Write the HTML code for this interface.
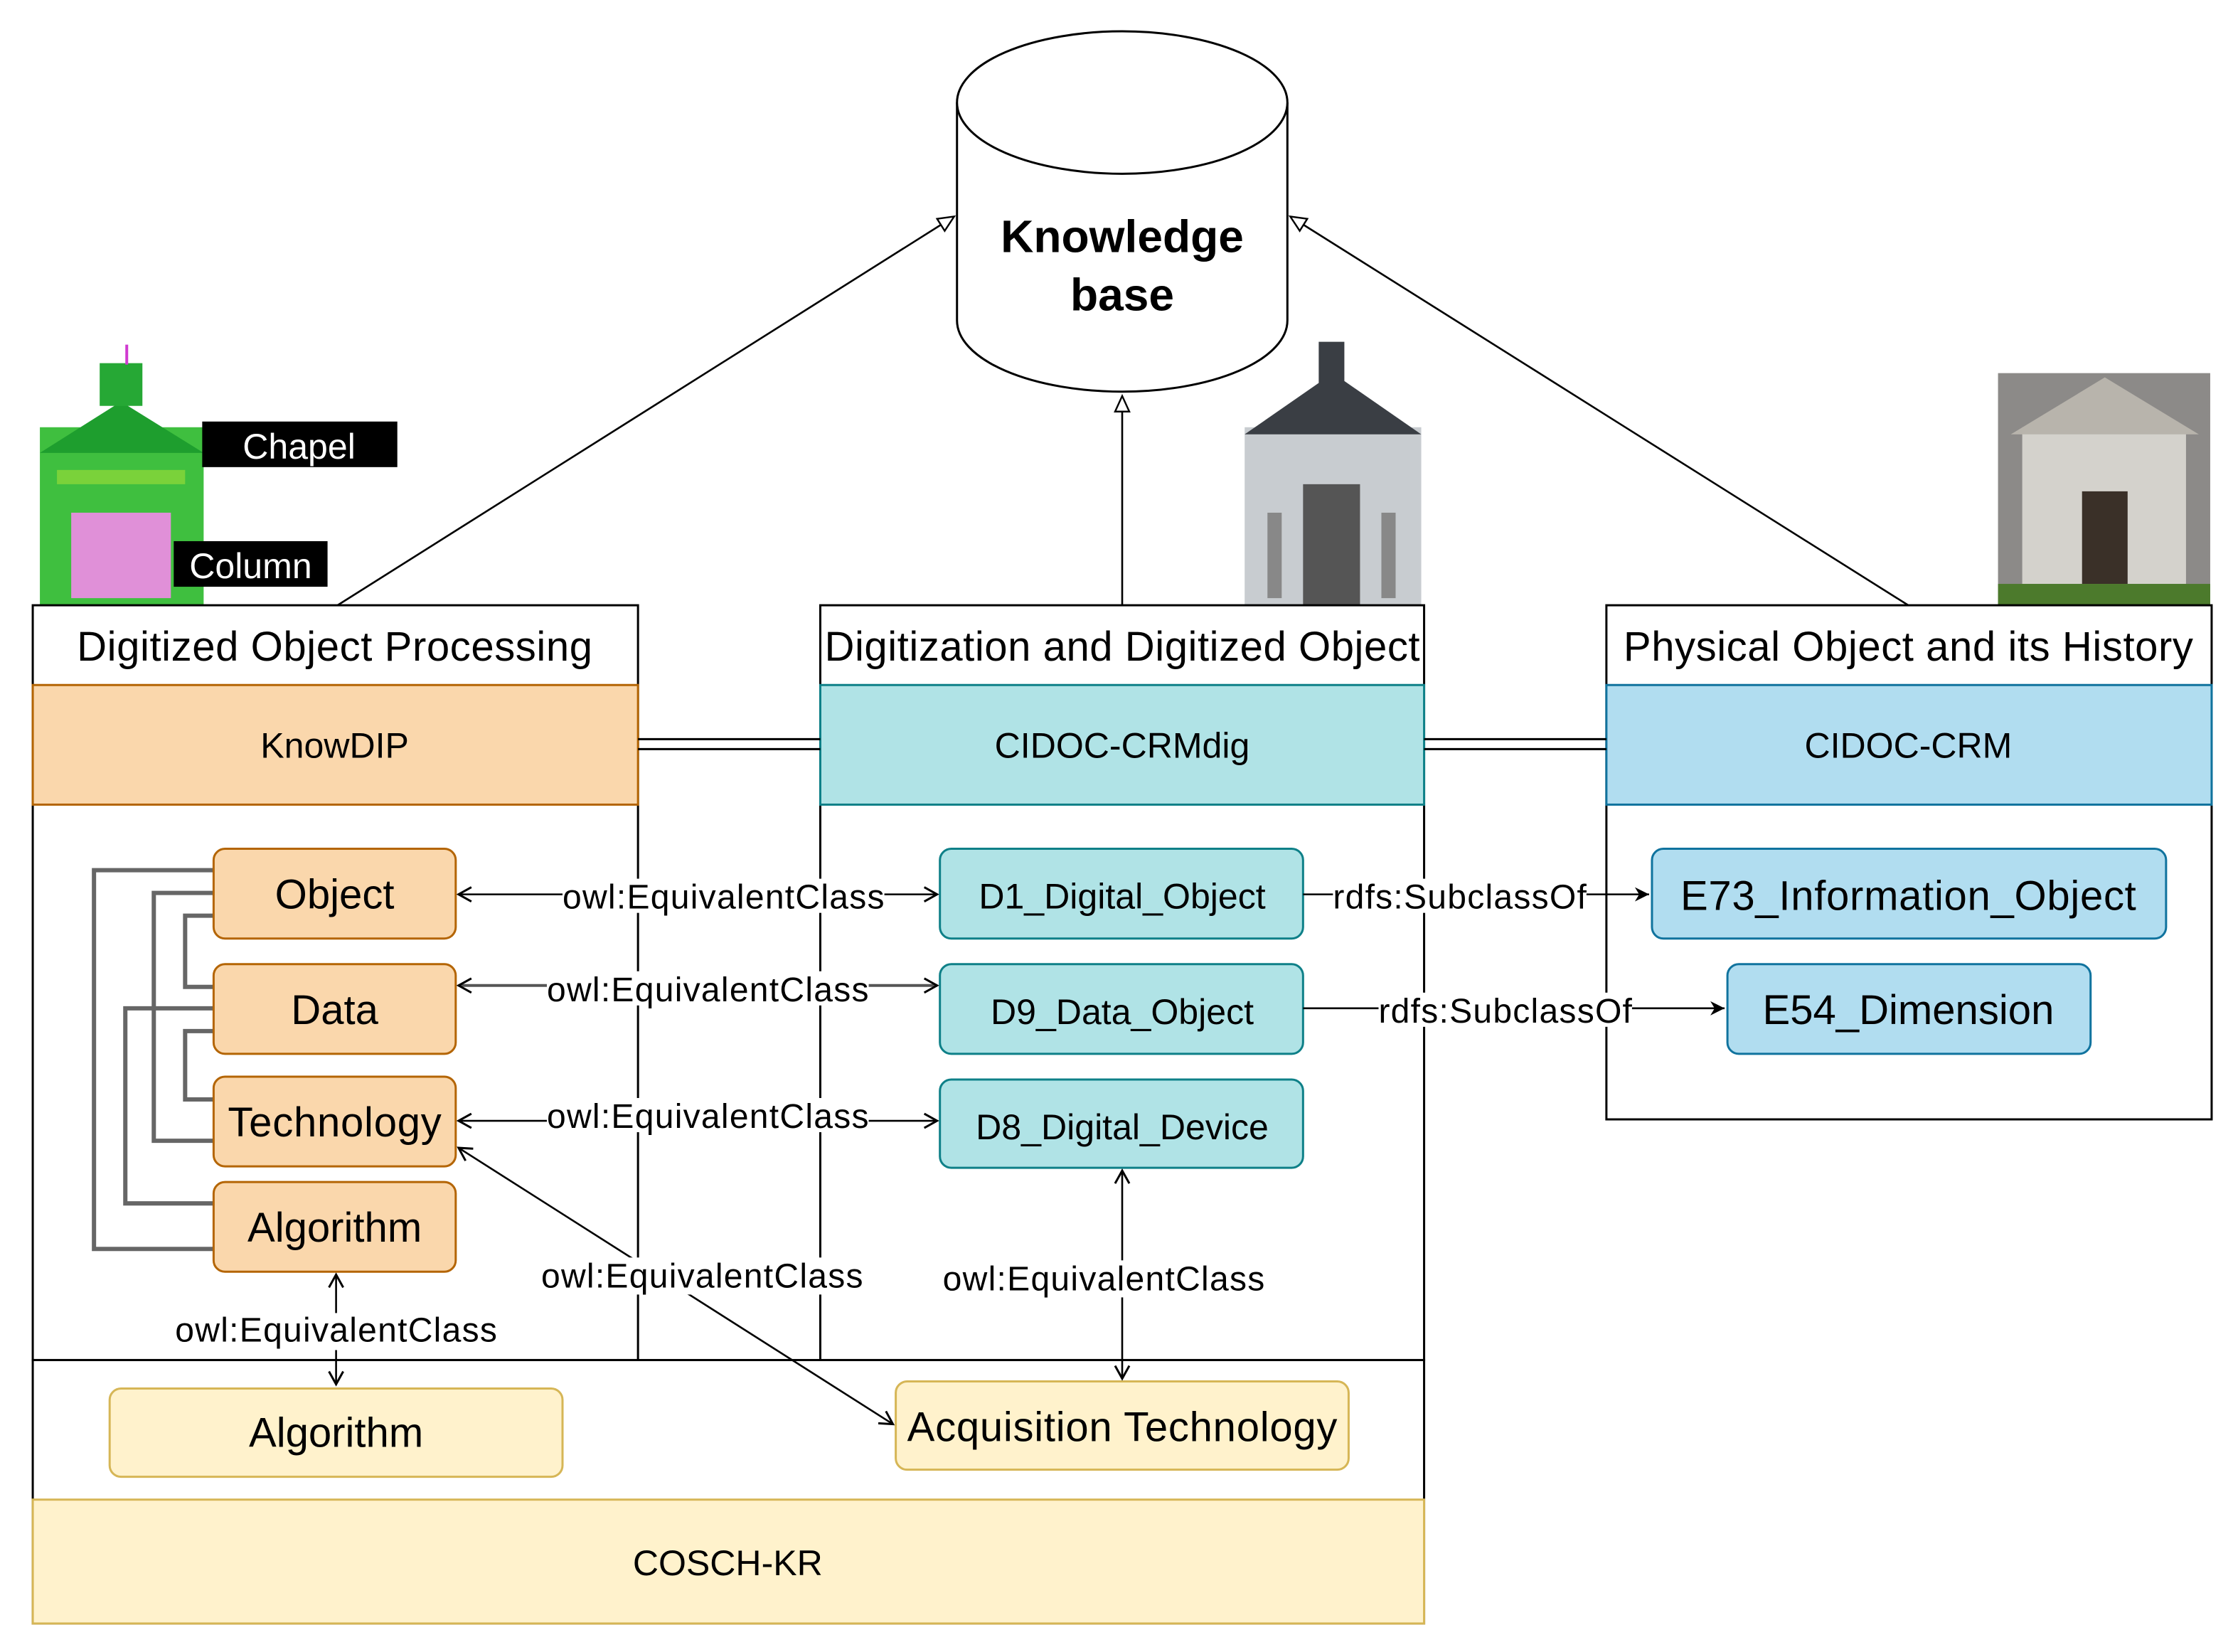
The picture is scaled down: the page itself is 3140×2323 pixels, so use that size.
<!DOCTYPE html>
<html><head><meta charset="utf-8"><style>
html,body{margin:0;padding:0;background:#fff;}
svg{display:block;}
text{font-family:"Liberation Sans",sans-serif;fill:#000;}
</style></head><body>
<svg width="3140" height="2323" viewBox="0 0 1568 1160" preserveAspectRatio="none" xmlns="http://www.w3.org/2000/svg">
<defs>
<marker id="tri" markerWidth="14" markerHeight="14" refX="12" refY="6" orient="auto" markerUnits="userSpaceOnUse"><path d="M1,1 L12,6 L1,11 Z" fill="#fff" stroke="#000" stroke-width="1.2"/></marker>
<marker id="v" markerWidth="14" markerHeight="14" refX="11" refY="6" orient="auto" markerUnits="userSpaceOnUse"><path d="M2,1 L11,6 L2,11" fill="none" stroke="#000" stroke-width="1.5"/></marker>
<marker id="vs" markerWidth="14" markerHeight="14" refX="3" refY="6" orient="auto" markerUnits="userSpaceOnUse"><path d="M12,1 L3,6 L12,11" fill="none" stroke="#000" stroke-width="1.5"/></marker>
<marker id="cl" markerWidth="14" markerHeight="14" refX="11" refY="6" orient="auto" markerUnits="userSpaceOnUse"><path d="M1,1 L11,6 L1,11 L4,6 Z" fill="#000"/></marker>
</defs>
<rect width="1568" height="1160" fill="#fff"/>

<path d="M672,72 L672,225 A116,50 0 0 0 904,225 L904,72" fill="#fff" stroke="#000" stroke-width="1.5"/>
<ellipse cx="788" cy="72" rx="116" ry="50" fill="#fff" stroke="#000" stroke-width="1.5"/>
<text x="788" y="177" font-size="32" font-weight="bold" text-anchor="middle">Knowledge</text>
<text x="788" y="218" font-size="32" font-weight="bold" text-anchor="middle">base</text>

<line x1="237" y1="425" x2="670" y2="152" stroke="#000" stroke-width="1.3" marker-end="url(#tri)"/>
<line x1="788" y1="425" x2="788" y2="278" stroke="#000" stroke-width="1.3" marker-end="url(#tri)"/>
<line x1="1340" y1="425" x2="906" y2="152" stroke="#000" stroke-width="1.3" marker-end="url(#tri)"/>

<g>
<rect x="28" y="300" width="115" height="125" fill="#3fbf3f"/>
<path d="M28,318 L85,282 L143,318 Z" fill="#1e9e2e"/>
<rect x="70" y="255" width="30" height="30" fill="#26a835"/>
<rect x="50" y="360" width="70" height="60" fill="#e090d8"/>
<rect x="40" y="330" width="90" height="10" fill="#7ad23a"/>
<line x1="89" y1="242" x2="89" y2="256" stroke="#d03ad0" stroke-width="2"/>
<rect x="142" y="296" width="137" height="32" fill="#000"/>
<text x="210" y="322" font-size="25" text-anchor="middle" style="fill:#fff">Chapel</text>
<rect x="122" y="380" width="108" height="32" fill="#000"/>
<text x="176" y="406" font-size="25" text-anchor="middle" style="fill:#fff">Column</text>
</g>
<g>
<rect x="874" y="300" width="124" height="125" fill="#c8ccd0"/>
<path d="M874,305 L936,262 L998,305 Z" fill="#3a3e44"/>
<rect x="926" y="240" width="18" height="30" fill="#3a3e44"/>
<rect x="915" y="340" width="40" height="85" fill="#555"/>
<rect x="890" y="360" width="10" height="60" fill="#888"/>
<rect x="970" y="360" width="10" height="60" fill="#888"/>
</g>
<g>
<rect x="1403" y="262" width="149" height="163" fill="#8c8a88"/>
<rect x="1420" y="300" width="115" height="110" fill="#d4d2cc"/>
<path d="M1412,305 L1478,265 L1544,305 Z" fill="#b8b4ac"/>
<rect x="1462" y="345" width="32" height="65" fill="#3a3028"/>
<rect x="1403" y="410" width="149" height="15" fill="#4c7a2c"/>
</g>

<rect x="23" y="425" width="425" height="530" fill="#fff" stroke="#000" stroke-width="1.5"/>
<rect x="576" y="425" width="424" height="530" fill="#fff" stroke="#000" stroke-width="1.5"/>
<rect x="1128" y="425" width="425" height="361" fill="#fff" stroke="#000" stroke-width="1.5"/>
<rect x="23" y="481" width="425" height="84" fill="#fad7ac" stroke="#b46504" stroke-width="1.5"/>
<rect x="576" y="481" width="424" height="84" fill="#b0e3e6" stroke="#0e8088" stroke-width="1.5"/>
<rect x="1128" y="481" width="425" height="84" fill="#b1ddf0" stroke="#10739e" stroke-width="1.5"/>
<text x="235" y="464" font-size="29" text-anchor="middle" textLength="362">Digitized Object Processing</text>
<text x="788" y="464" font-size="29" text-anchor="middle" textLength="418">Digitization and Digitized Object</text>
<text x="1340" y="464" font-size="29" text-anchor="middle" textLength="400">Physical Object and its History</text>
<text x="235" y="532" font-size="25" text-anchor="middle">KnowDIP</text>
<text x="788" y="532" font-size="25" text-anchor="middle">CIDOC-CRMdig</text>
<text x="1340" y="532" font-size="25" text-anchor="middle">CIDOC-CRM</text>
<g stroke="#000" stroke-width="1.5">
<line x1="448" y1="519" x2="576" y2="519"/><line x1="448" y1="526" x2="576" y2="526"/>
<line x1="1000" y1="519" x2="1128" y2="519"/><line x1="1000" y1="526" x2="1128" y2="526"/>
</g>

<rect x="23" y="955" width="977" height="185" fill="#fff" stroke="#000" stroke-width="1.5"/>
<rect x="23" y="1053" width="977" height="87" fill="#fff2cc" stroke="#d6b656" stroke-width="1.5"/>
<text x="511" y="1106" font-size="25" text-anchor="middle">COSCH-KR</text>

<g fill="none" stroke="#666" stroke-width="3">
<path d="M150,611 H66 V877 H150"/>
<path d="M150,627 H108 V801 H150"/>
<path d="M150,643 H130 V693 H150"/>
<path d="M150,708 H88 V845 H150"/>
<path d="M150,724 H130 V772 H150"/>
</g>

<g fill="#fad7ac" stroke="#b46504" stroke-width="1.5">
<rect x="150" y="596" width="170" height="63" rx="8"/>
<rect x="150" y="677" width="170" height="63" rx="8"/>
<rect x="150" y="756" width="170" height="63" rx="8"/>
<rect x="150" y="830" width="170" height="63" rx="8"/>
</g>
<g font-size="29" text-anchor="middle">
<text x="235" y="638">Object</text>
<text x="235" y="719">Data</text>
<text x="235" y="798" textLength="150">Technology</text>
<text x="235" y="872">Algorithm</text>
</g>
<g fill="#b0e3e6" stroke="#0e8088" stroke-width="1.5">
<rect x="660" y="596" width="255" height="63" rx="8"/>
<rect x="660" y="677" width="255" height="63" rx="8"/>
<rect x="660" y="758" width="255" height="62" rx="8"/>
</g>
<g font-size="25" text-anchor="middle">
<text x="788" y="638">D1_Digital_Object</text>
<text x="788" y="719">D9_Data_Object</text>
<text x="788" y="800">D8_Digital_Device</text>
</g>
<g fill="#b1ddf0" stroke="#10739e" stroke-width="1.5">
<rect x="1160" y="596" width="361" height="63" rx="8"/>
<rect x="1213" y="677" width="255" height="63" rx="8"/>
</g>
<g font-size="29" text-anchor="middle">
<text x="1340" y="639" textLength="320">E73_Information_Object</text>
<text x="1340" y="719">E54_Dimension</text>
</g>
<g fill="#fff2cc" stroke="#d6b656" stroke-width="1.5">
<rect x="77" y="975" width="318" height="62" rx="8"/>
<rect x="629" y="970" width="318" height="62" rx="8"/>
</g>
<g font-size="29" text-anchor="middle">
<text x="236" y="1016">Algorithm</text>
<text x="788" y="1012" textLength="302">Acquisition Technology</text>
</g>

<g stroke="#000" stroke-width="1.3" fill="none">
<line x1="322" y1="628" x2="658" y2="628" marker-start="url(#vs)" marker-end="url(#v)"/>
<line x1="322" y1="692" x2="658" y2="692" stroke="#555" stroke-width="2" marker-start="url(#vs)" marker-end="url(#v)"/>
<line x1="322" y1="787" x2="658" y2="787" marker-start="url(#vs)" marker-end="url(#v)"/>
<line x1="322" y1="806" x2="627" y2="1000" marker-start="url(#vs)" marker-end="url(#v)"/>
<line x1="788" y1="822" x2="788" y2="968" marker-start="url(#vs)" marker-end="url(#v)"/>
<line x1="236" y1="895" x2="236" y2="972" marker-start="url(#vs)" marker-end="url(#v)"/>
<line x1="915" y1="628" x2="1158" y2="628" marker-end="url(#cl)"/>
<line x1="915" y1="708" x2="1211" y2="708" marker-end="url(#cl)"/>
</g>
<g font-size="24" text-anchor="middle">
<rect x="395" y="617" width="226" height="24" fill="#fff"/>
<text x="508" y="638" textLength="226">owl:EquivalentClass</text>
<rect x="384" y="682" width="226" height="24" fill="#fff"/>
<text x="497" y="703" textLength="226">owl:EquivalentClass</text>
<rect x="384" y="771" width="226" height="24" fill="#fff"/>
<text x="497" y="792" textLength="226">owl:EquivalentClass</text>
<rect x="380" y="883" width="226" height="26" fill="#fff"/>
<text x="493" y="904" textLength="226">owl:EquivalentClass</text>
<rect x="662" y="885" width="226" height="26" fill="#fff"/>
<text x="775" y="906" textLength="226">owl:EquivalentClass</text>
<rect x="123" y="922" width="226" height="26" fill="#fff"/>
<text x="236" y="942" textLength="226">owl:EquivalentClass</text>
<rect x="936" y="617" width="178" height="24" fill="#fff"/>
<text x="1025" y="638" textLength="178">rdfs:SubclassOf</text>
<rect x="968" y="697" width="178" height="24" fill="#fff"/>
<text x="1057" y="718" textLength="178">rdfs:SubclassOf</text>
</g>
</svg>
</body></html>
